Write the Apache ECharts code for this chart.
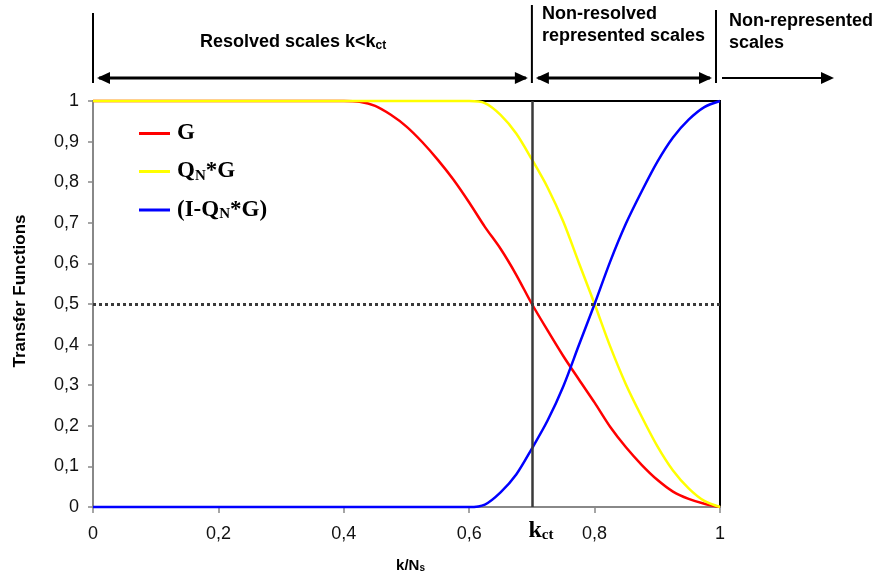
<!DOCTYPE html>
<html>
<head>
<meta charset="utf-8">
<script src="https://cdn.jsdelivr.net/npm/echarts@6/dist/echarts.min.js"></script>
<style>html,body{margin:0;padding:0;background:#fff;}#c{width:887px;height:577px;}</style>
</head>
<body>
<div id="c"></div>
<script>
// ---- data ----
const gX = [0, 0.4, 0.425, 0.45, 0.475, 0.5, 0.525, 0.55, 0.575, 0.6, 0.625, 0.65, 0.675, 0.7, 0.725, 0.75, 0.775, 0.8, 0.825, 0.85, 0.875, 0.9, 0.925, 0.95, 0.975, 1];
const gY = [1, 1, 0.998, 0.988, 0.966, 0.937, 0.899, 0.855, 0.806, 0.750, 0.690, 0.636, 0.572, 0.500, 0.435, 0.372, 0.314, 0.257, 0.197, 0.147, 0.104, 0.067, 0.038, 0.020, 0.008, 0];
const qX = [0, 0.6, 0.625, 0.65, 0.675, 0.7, 0.725, 0.75, 0.775, 0.8, 0.825, 0.85, 0.875, 0.9, 0.925, 0.95, 0.975, 1];
const qY = [1, 1, 0.995, 0.966, 0.920, 0.856, 0.787, 0.703, 0.601, 0.5, 0.395, 0.302, 0.223, 0.150, 0.090, 0.046, 0.015, 0];
const bY = [0, 0, 0.006, 0.036, 0.080, 0.144, 0.213, 0.297, 0.399, 0.5, 0.605, 0.698, 0.777, 0.850, 0.910, 0.954, 0.985, 1];
const seriesNames = ['G', 'Q_N*G', '(I-Q_N*G)'];
const kct = 0.7;
const halfLevel = 0.5;

const pairs = (xs, ys) => xs.map((x, i) => [x, ys[i]]);
const comma = v => String(v).replace('.', ',');

const chart = echarts.init(document.getElementById('c'), null, {renderer: 'canvas'});
const serif = '"Liberation Serif", "Times New Roman", serif';
const sans = '"Liberation Sans", Arial, sans-serif';

const legendRich = {
  b: {fontFamily: serif, fontWeight: 'bold', fontSize: 23, color: '#000'},
  s: {fontFamily: serif, fontWeight: 'bold', fontSize: 15, color: '#000', padding: [9, 0, 0, 0]}
};

chart.setOption({
  animation: false,
  grid: {left: 93, right: 167, top: 101, bottom: 70, show: true, borderColor: '#000', borderWidth: 2, backgroundColor: 'transparent'},
  legend: {
    orient: 'vertical', left: 134, top: 117, itemGap: 15,
    itemWidth: 31, itemHeight: 3, icon: 'rect',
    data: seriesNames,
    formatter: n => n === 'G' ? '{b|G}' : n === 'Q_N*G' ? '{b|Q}{s|N}{b|*G}' : '{b|(I-Q}{s|N}{b|*G)}',
    textStyle: {rich: legendRich, padding: [0, 0, 0, 2]}
  },
  xAxis: {
    type: 'value', min: 0, max: 1, interval: 0.2,
    axisLine: {show: true, lineStyle: {color: '#888', width: 2}},
    axisTick: {show: true, length: 6, lineStyle: {color: '#888', width: 1.5}},
    axisLabel: {formatter: comma, fontFamily: sans, fontSize: 18, color: '#111', margin: 18},
    splitLine: {show: false}
  },
  yAxis: {
    type: 'value', min: 0, max: 1, interval: 0.1,
    axisLine: {show: true, lineStyle: {color: '#888', width: 2}},
    axisTick: {show: true, length: 5, lineStyle: {color: '#888', width: 1.5}},
    axisLabel: {formatter: v => comma(Math.round(v * 10) / 10), fontFamily: sans, fontSize: 18, color: '#111', margin: 14},
    splitLine: {show: false}
  },
  series: [
    {
      name: seriesNames[0], type: 'line', data: pairs(gX, gY), showSymbol: false, symbol: 'none',
      smooth: 0.3, clip: false,
      lineStyle: {color: '#ff0000', width: 2.5}, itemStyle: {color: '#ff0000'},
      markLine: {
        silent: true, symbol: 'none', label: {show: false},
        data: [
          {xAxis: kct, lineStyle: {color: '#3a3a3a', width: 2.5, type: 'solid'}},
          {yAxis: halfLevel, lineStyle: {color: '#3a3a3a', width: 3, type: 'dotted'}}
        ]
      }
    },
    {
      name: seriesNames[1], type: 'line', data: pairs(qX, qY), showSymbol: false, symbol: 'none',
      smooth: 0.3, clip: false,
      lineStyle: {color: '#ffff00', width: 2.5}, itemStyle: {color: '#ffff00'}
    },
    {
      name: seriesNames[2], type: 'line', data: pairs(qX, bY), showSymbol: false, symbol: 'none',
      smooth: 0.3, clip: false,
      lineStyle: {color: '#0000ff', width: 2.5}, itemStyle: {color: '#0000ff'}
    }
  ]
});

// ---- annotations positioned via axis conversion ----
const px = x => chart.convertToPixel({xAxisIndex: 0}, x);
const py = y => chart.convertToPixel({yAxisIndex: 0}, y);
const x0 = px(0), xk = px(kct), x1 = px(1);
const yBot = py(0);
const arrowY = 78;

function head(x, y, dir) {
  const L = 13, W = 6;
  return {type: 'polygon', shape: {points: [[x, y], [x - dir * L, y - W], [x - dir * L, y + W]]}, style: {fill: '#000'}};
}
function hline(xa, xb, y, w) {
  return {type: 'line', shape: {x1: xa, y1: y, x2: xb, y2: y}, style: {stroke: '#000', lineWidth: w}};
}
function vline(x, ya, yb) {
  return {type: 'line', shape: {x1: x, y1: ya, x2: x, y2: yb}, style: {stroke: '#000', lineWidth: 2}};
}
const headRich = {
  a: {fontFamily: sans, fontWeight: 'bold', fontSize: 18, color: '#000'},
  s: {fontFamily: sans, fontWeight: 'bold', fontSize: 12, color: '#000', padding: [8, 0, 0, 0]}
};
const x3 = x1 - 4;
const graphics = [
  vline(x0, 13, 83), vline(xk, 5, 83), vline(x3, 10, 83),
  hline(x0 + 6, xk - 6, arrowY, 3), head(x0 + 4, arrowY, -1), head(xk - 4, arrowY, 1),
  hline(xk + 6, x3 - 6, arrowY, 3), head(xk + 4, arrowY, -1), head(x3 - 4, arrowY, 1),
  hline(x3 + 6, 830, arrowY, 2), head(834, arrowY, 1),
  {type: 'text', left: 200, top: 33, style: {text: '{a|Resolved scales k<k}{s|ct}', rich: headRich}},
  {type: 'text', left: 542, top: 3, style: {text: 'Non-resolved\nrepresented scales', font: 'bold 18px ' + sans, fill: '#000', lineHeight: 22}},
  {type: 'text', left: 729, top: 10, style: {text: 'Non-represented\nscales', font: 'bold 18px ' + sans, fill: '#000', lineHeight: 22}},
  {type: 'text', x: xk + 9, y: yBot + 24, style: {text: '{k|k}{c|ct}', align: 'center', verticalAlign: 'middle',
    rich: {k: {fontFamily: serif, fontWeight: 'bold', fontSize: 24, color: '#000'},
           c: {fontFamily: serif, fontWeight: 'bold', fontSize: 15, color: '#000', padding: [9, 0, 0, 0]}}}},
  {type: 'text', x: (x0 + x1) / 2 + 4, y: 566, style: {text: '{a|k/N}{s|s}', align: 'center', verticalAlign: 'middle',
    rich: {a: {fontFamily: sans, fontWeight: 'bold', fontSize: 15, color: '#000'},
           s: {fontFamily: sans, fontWeight: 'bold', fontSize: 10, color: '#000', padding: [5, 0, 0, 0]}}}},
  {type: 'text', x: 20, y: 291, rotation: Math.PI / 2, style: {text: 'Transfer Functions', font: 'bold 17px ' + sans, fill: '#000', align: 'center', verticalAlign: 'middle'}}
];
chart.setOption({graphic: graphics});
</script>
</body>
</html>
